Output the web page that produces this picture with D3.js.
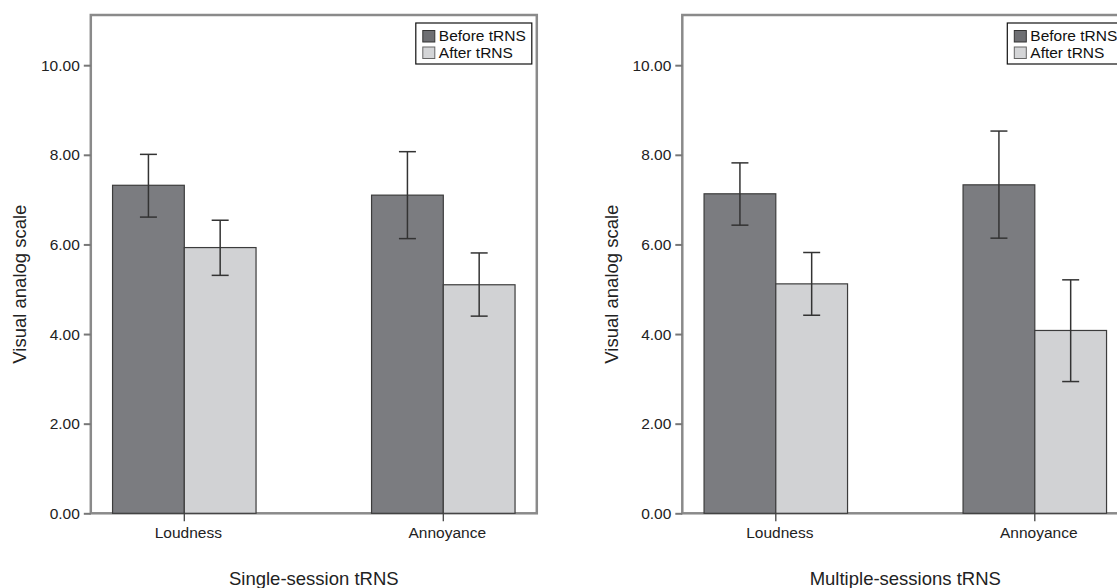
<!DOCTYPE html>
<html>
<head>
<meta charset="utf-8">
<script src="https://cdn.jsdelivr.net/npm/d3@7"></script>
<style>
  body { margin: 0; background: #fff; }
  svg { display: block; font-family: "Liberation Sans", Arial, sans-serif; }
</style>
</head>
<body>
<svg id="chart" width="1117" height="588"></svg>
<script>
// data
var categories = ["Loudness", "Annoyance"];
var seriesNames = ["Before tRNS", "After tRNS"];
var yTicks = [0, 2, 4, 6, 8, 10];

var singleBefore   = [7.32, 7.10];
var singleBeforeLo = [6.61, 6.13];
var singleBeforeHi = [8.01, 8.07];
var singleAfter    = [5.93, 5.10];
var singleAfterLo  = [5.31, 4.40];
var singleAfterHi  = [6.54, 5.81];

var multiBefore   = [7.13, 7.33];
var multiBeforeLo = [6.43, 6.14];
var multiBeforeHi = [7.82, 8.53];
var multiAfter    = [5.12, 4.08];
var multiAfterLo  = [4.42, 2.94];
var multiAfterHi  = [5.82, 5.21];

var panels = [
  { title: "Single-session tRNS", left: 90.8,
    before: singleBefore, beforeLo: singleBeforeLo, beforeHi: singleBeforeHi,
    after: singleAfter, afterLo: singleAfterLo, afterHi: singleAfterHi },
  { title: "Multiple-sessions tRNS", left: 682.3,
    before: multiBefore, beforeLo: multiBeforeLo, beforeHi: multiBeforeHi,
    after: multiAfter, afterLo: multiAfterLo, afterHi: multiAfterHi }
];

var fills = ["#7b7c80", "#d1d2d4"];
var pw = 446, plotTop = 15, plotBottom = 513.3;

var svg = d3.select("#chart");

var y = d3.scaleLinear().domain([0, 11.12]).range([plotBottom, plotTop]);

var x0 = d3.scaleBand()
    .domain(categories)
    .range([0, pw])
    .paddingInner(0.446)
    .paddingOuter(0.084);

var x1 = d3.scaleBand()
    .domain(seriesNames)
    .range([0, x0.bandwidth()]);

panels.forEach(function(p) {
  var g = svg.append("g").attr("transform", "translate(" + p.left + ",0)");

  var rows = categories.map(function(c, i) {
    return [
      { cat: c, s: seriesNames[0], v: p.before[i], lo: p.beforeLo[i], hi: p.beforeHi[i], k: 0 },
      { cat: c, s: seriesNames[1], v: p.after[i], lo: p.afterLo[i], hi: p.afterHi[i], k: 1 }
    ];
  });
  var flat = d3.merge(rows);

  // plot frame
  g.append("rect")
    .attr("x", 0).attr("y", plotTop)
    .attr("width", pw).attr("height", plotBottom - plotTop)
    .attr("fill", "none")
    .attr("stroke", "#8a8a8a")
    .attr("stroke-width", 2.5);

  // bars
  g.selectAll(".bar")
    .data(flat)
    .enter().append("rect")
    .attr("class", "bar")
    .attr("x", function(d) { return x0(d.cat) + x1(d.s); })
    .attr("y", function(d) { return y(d.v); })
    .attr("width", x1.bandwidth())
    .attr("height", function(d) { return y(0) - y(d.v); })
    .attr("fill", function(d) { return fills[d.k]; })
    .attr("stroke", "#3c3c3c")
    .attr("stroke-width", 1.2);

  // error bars
  var eb = g.selectAll(".err")
    .data(flat)
    .enter().append("g")
    .attr("class", "err")
    .attr("transform", function(d) { return "translate(" + (x0(d.cat) + x1(d.s) + x1.bandwidth() / 2) + ",0)"; })
    .attr("stroke", "#333")
    .attr("stroke-width", 1.5);
  eb.append("line")
    .attr("y1", function(d) { return y(d.lo); })
    .attr("y2", function(d) { return y(d.hi); });
  eb.append("line")
    .attr("x1", -8.5).attr("x2", 8.5)
    .attr("y1", function(d) { return y(d.hi); })
    .attr("y2", function(d) { return y(d.hi); });
  eb.append("line")
    .attr("x1", -8.5).attr("x2", 8.5)
    .attr("y1", function(d) { return y(d.lo); })
    .attr("y2", function(d) { return y(d.lo); });

  // y axis
  var yAxis = g.append("g")
    .call(d3.axisLeft(y).tickValues(yTicks).tickFormat(d3.format(".2f")).tickSize(7).tickPadding(4));
  yAxis.select(".domain").remove();
  yAxis.selectAll(".tick line").attr("stroke", "#777").attr("stroke-width", 2);
  yAxis.selectAll(".tick text")
    .attr("fill", "#222")
    .style("font-size", "15.5px")
    .style("font-family", "'Liberation Sans', Arial, sans-serif");

  // x axis
  var xAxis = g.append("g")
    .attr("transform", "translate(0," + plotBottom + ")")
    .call(d3.axisBottom(x0).tickSize(8).tickPadding(6));
  xAxis.select(".domain").remove();
  xAxis.selectAll(".tick line").attr("stroke", "#444").attr("stroke-width", 1.3);
  xAxis.selectAll(".tick text")
    .attr("fill", "#222")
    .attr("dx", 4)
    .style("font-size", "15.5px")
    .style("font-family", "'Liberation Sans', Arial, sans-serif");

  // axis titles
  g.append("text")
    .attr("x", pw / 2)
    .attr("y", 585)
    .attr("text-anchor", "middle")
    .attr("fill", "#222")
    .style("font-size", "18.5px")
    .text(p.title);

  g.append("text")
    .attr("transform", "translate(-64.5," + ((plotTop + plotBottom) / 2 + 20) + ") rotate(-90)")
    .attr("text-anchor", "middle")
    .attr("fill", "#222")
    .style("font-size", "18.5px")
    .text("Visual analog scale");

  // legend
  var lg = g.append("g").attr("transform", "translate(" + (pw - 121) + ",23)");
  lg.append("rect")
    .attr("width", 116).attr("height", 41)
    .attr("fill", "#fff")
    .attr("stroke", "#111")
    .attr("stroke-width", 1.2);
  var item = lg.selectAll(".item")
    .data(seriesNames)
    .enter().append("g")
    .attr("transform", function(d, i) { return "translate(7," + (7.5 + i * 16.5) + ")"; });
  item.append("rect")
    .attr("width", 12).attr("height", 11.5)
    .attr("fill", function(d, i) { return i === 0 ? "#6e6f73" : "#d4d5d7"; })
    .attr("stroke", function(d, i) { return i === 0 ? "#333" : "#666"; })
    .attr("stroke-width", 1);
  item.append("text")
    .attr("x", 16)
    .attr("y", 10.5)
    .attr("fill", "#111")
    .style("font-size", "15.5px")
    .text(function(d) { return d; });
});
</script>
</body>
</html>
